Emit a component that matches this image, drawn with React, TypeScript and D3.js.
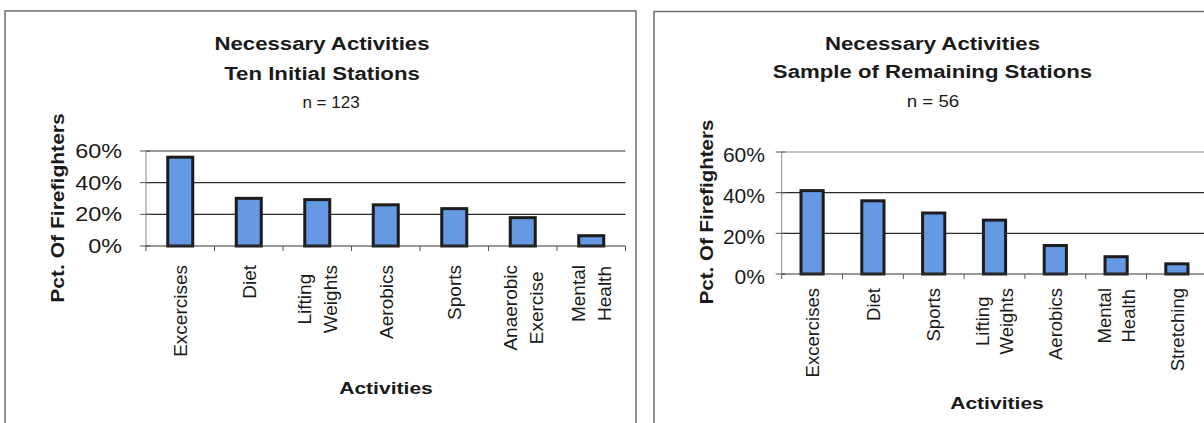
import React from 'react';
import * as d3 from 'd3';

// ---------- data ----------
const leftCategories = ['Excercises', 'Diet', 'Lifting\nWeights', 'Aerobics', 'Sports', 'Anaerobic\nExercise', 'Mental\nHealth'];
const leftValues = [56.1, 30.1, 29.3, 26.0, 23.6, 17.9, 6.5];
const rightCategories = ['Excercises', 'Diet', 'Sports', 'Lifting\nWeights', 'Aerobics', 'Mental\nHealth', 'Stretching'];
const rightValues = [41, 36, 30, 26.5, 14, 8.5, 5];
const yTicks = [0, 20, 40, 60];
const leftTitle = ['Necessary Activities', 'Ten Initial Stations'];
const leftN = 'n = 123';
const rightTitle = ['Necessary Activities', 'Sample of Remaining Stations'];
const rightN = 'n = 56';
const yAxisTitle = 'Pct. Of Firefighters';
const xAxisTitle = 'Activities';

const FONT = '"Liberation Sans", Arial, Helvetica, sans-serif';
const BAR_FILL = '#6699e4';
const BAR_STROKE = '#1c1c1c';

let ctx: CanvasRenderingContext2D | null = null;
function measure(text: string, size: number, weight = 'normal') {
  if (!ctx) ctx = document.createElement('canvas').getContext('2d');
  if (!ctx) return text.length * size * 0.5;
  ctx.font = `${weight} ${size}px ${FONT}`;
  return ctx.measureText(text).width;
}

type TP = {
  x: number; y: number; sx?: number; sy?: number; rotate?: number;
  anchor?: string; size: number; weight?: string; children: React.ReactNode; fill?: string;
};
const SText = ({ x, y, sx = 1, sy = 1, rotate = 0, anchor = 'middle', size, weight = 'normal', children, fill = '#1a1a1a' }: TP) => (
  <text
    transform={`translate(${x},${y}) rotate(${rotate}) scale(${sx},${sy})`}
    textAnchor={anchor}
    fontSize={size}
    fontWeight={weight}
    fontFamily={FONT}
    fill={fill}
  >
    {children}
  </text>
);

type Cfg = {
  panel: { x: number; y: number; w: number; h: number };
  plot: { x0: number; x1: number; y0: number; y1: number };
  titleCx: number; titleBase: number[]; titleSx: number;
  nCx: number; nBase: number; nSx: number;
  tickLabelX: number; tickFont: number; tickSx: number; tickDy: number;
  yTitleX: number; yTitleCy: number; yTitleSx: number;
  xLabelTop: number; xLabelFont: number; xLineGap: number;
  xTitleCx: number; xTitleBase: number;
  topGrid: string;
};

const leftCfg: Cfg = {
  panel: { x: 5, y: 11, w: 631, h: 440 },
  plot: { x0: 146, x1: 625.5, y0: 246, y1: 151 },
  titleCx: 322, titleBase: [50, 80], titleSx: 1.2,
  nCx: 331, nBase: 108, nSx: 1.0,
  tickLabelX: 122, tickFont: 19.5, tickSx: 1.2, tickDy: 0,
  yTitleX: 63.5, yTitleCy: 208, yTitleSx: 1.17,
  xLabelTop: 265, xLabelFont: 19, xLineGap: 26,
  xTitleCx: 386, xTitleBase: 394,
  topGrid: '#333',
};

const rightCfg: Cfg = {
  panel: { x: 654, y: 11.5, w: 620, h: 440 },
  plot: { x0: 781.7, x1: 1207.3, y0: 274, y1: 152 },
  titleCx: 932.5, titleBase: [49.5, 77.5], titleSx: 1.2,
  nCx: 933, nBase: 107, nSx: 1.1,
  tickLabelX: 765, tickFont: 19.5, tickSx: 1.08, tickDy: 3.5,
  yTitleX: 713, yTitleCy: 212, yTitleSx: 1.14,
  xLabelTop: 288, xLabelFont: 18.5, xLineGap: 24,
  xTitleCx: 997, xTitleBase: 409,
  topGrid: '#888',
};

function Chart({ cfg, categories, values, title, n }: { cfg: Cfg; categories: string[]; values: number[]; title: string[]; n: string }) {
  const { plot } = cfg;
  const x = d3.scaleBand<string>().domain(categories).range([plot.x0, plot.x1]).padding(0);
  const y = d3.scaleLinear().domain([0, 60]).range([plot.y0, plot.y1]);
  const bw = x.bandwidth();
  const barW = bw * 0.365;
  const boundaries = d3.range(categories.length + 1).map((i) => plot.x0 + i * bw);

  return (
    <g>
      {/* panel border */}
      <rect x={cfg.panel.x} y={cfg.panel.y} width={cfg.panel.w} height={cfg.panel.h} fill="none" stroke="#666" strokeWidth={1.4} />

      {/* titles */}
      {title.map((t, i) => (
        <SText key={i} x={cfg.titleCx} y={cfg.titleBase[i]} size={18.5} weight="bold" sx={cfg.titleSx}>{t}</SText>
      ))}
      <SText x={cfg.nCx} y={cfg.nBase} size={17} sx={cfg.nSx}>{n}</SText>

      {/* gridlines */}
      {yTicks.filter((t) => t > 0).map((t) => (
        <line key={t} x1={plot.x0} x2={plot.x1} y1={y(t)} y2={y(t)} stroke={t === 60 ? cfg.topGrid : '#2a2a2a'} strokeWidth={1.1} />
      ))}
      {/* y axis */}
      <line x1={plot.x0} x2={plot.x0} y1={plot.y1} y2={plot.y0} stroke="#8a8a8a" strokeWidth={1} />
      {yTicks.map((t) => (
        <line key={'yt' + t} x1={plot.x0 - 6} x2={plot.x0 + 4} y1={y(t)} y2={y(t)} stroke="#555" strokeWidth={1} />
      ))}
      {yTicks.map((t) => (
        <SText key={'yl' + t} x={cfg.tickLabelX} y={y(t) + cfg.tickFont * 0.358 + cfg.tickDy} size={cfg.tickFont} sx={cfg.tickSx} anchor="end">{`${t}%`}</SText>
      ))}

      {/* bars */}
      {categories.map((c, i) => (
        <rect
          key={c}
          x={(x(c) as number) + (bw - barW) / 2}
          y={y(values[i])}
          width={barW}
          height={plot.y0 - y(values[i])}
          fill={BAR_FILL}
          stroke={BAR_STROKE}
          strokeWidth={3}
        />
      ))}

      {/* x axis */}
      <line x1={plot.x0} x2={plot.x1} y1={plot.y0} y2={plot.y0} stroke="#333" strokeWidth={1.2} />
      {boundaries.map((bx, i) => (
        <line key={'xt' + i} x1={bx} x2={bx} y1={plot.y0} y2={plot.y0 + 5} stroke="#555" strokeWidth={1} />
      ))}

      {/* x labels */}
      {categories.map((c) => {
        const lines = c.split('\n');
        const maxLen = d3.max(lines, (l) => measure(l, cfg.xLabelFont)) || 0;
        const cy = cfg.xLabelTop + maxLen / 2;
        const cx = (x(c) as number) + bw / 2;
        return lines.map((l, j) => (
          <SText
            key={c + j}
            x={cx + (j - (lines.length - 1) / 2) * cfg.xLineGap + cfg.xLabelFont * 0.358}
            y={cy}
            rotate={-90}
            size={cfg.xLabelFont}
          >
            {l}
          </SText>
        ));
      })}

      {/* axis titles */}
      <SText x={cfg.yTitleX} y={cfg.yTitleCy} rotate={-90} size={18} weight="bold" sx={cfg.yTitleSx}>{yAxisTitle}</SText>
      <SText x={cfg.xTitleCx} y={cfg.xTitleBase} size={17} weight="bold" sx={1.24}>{xAxisTitle}</SText>
    </g>
  );
}

export default function App() {
  return (
    <svg
      width={1204}
      height={423}
      viewBox="0 0 1204 423"
      style={{ position: 'absolute', left: 0, top: 0, background: '#fff' }}
    >
      <rect x={0} y={0} width={1204} height={423} fill="#fff" />
      <Chart cfg={leftCfg} categories={leftCategories} values={leftValues} title={leftTitle} n={leftN} />
      <Chart cfg={rightCfg} categories={rightCategories} values={rightValues} title={rightTitle} n={rightN} />
    </svg>
  );
}
